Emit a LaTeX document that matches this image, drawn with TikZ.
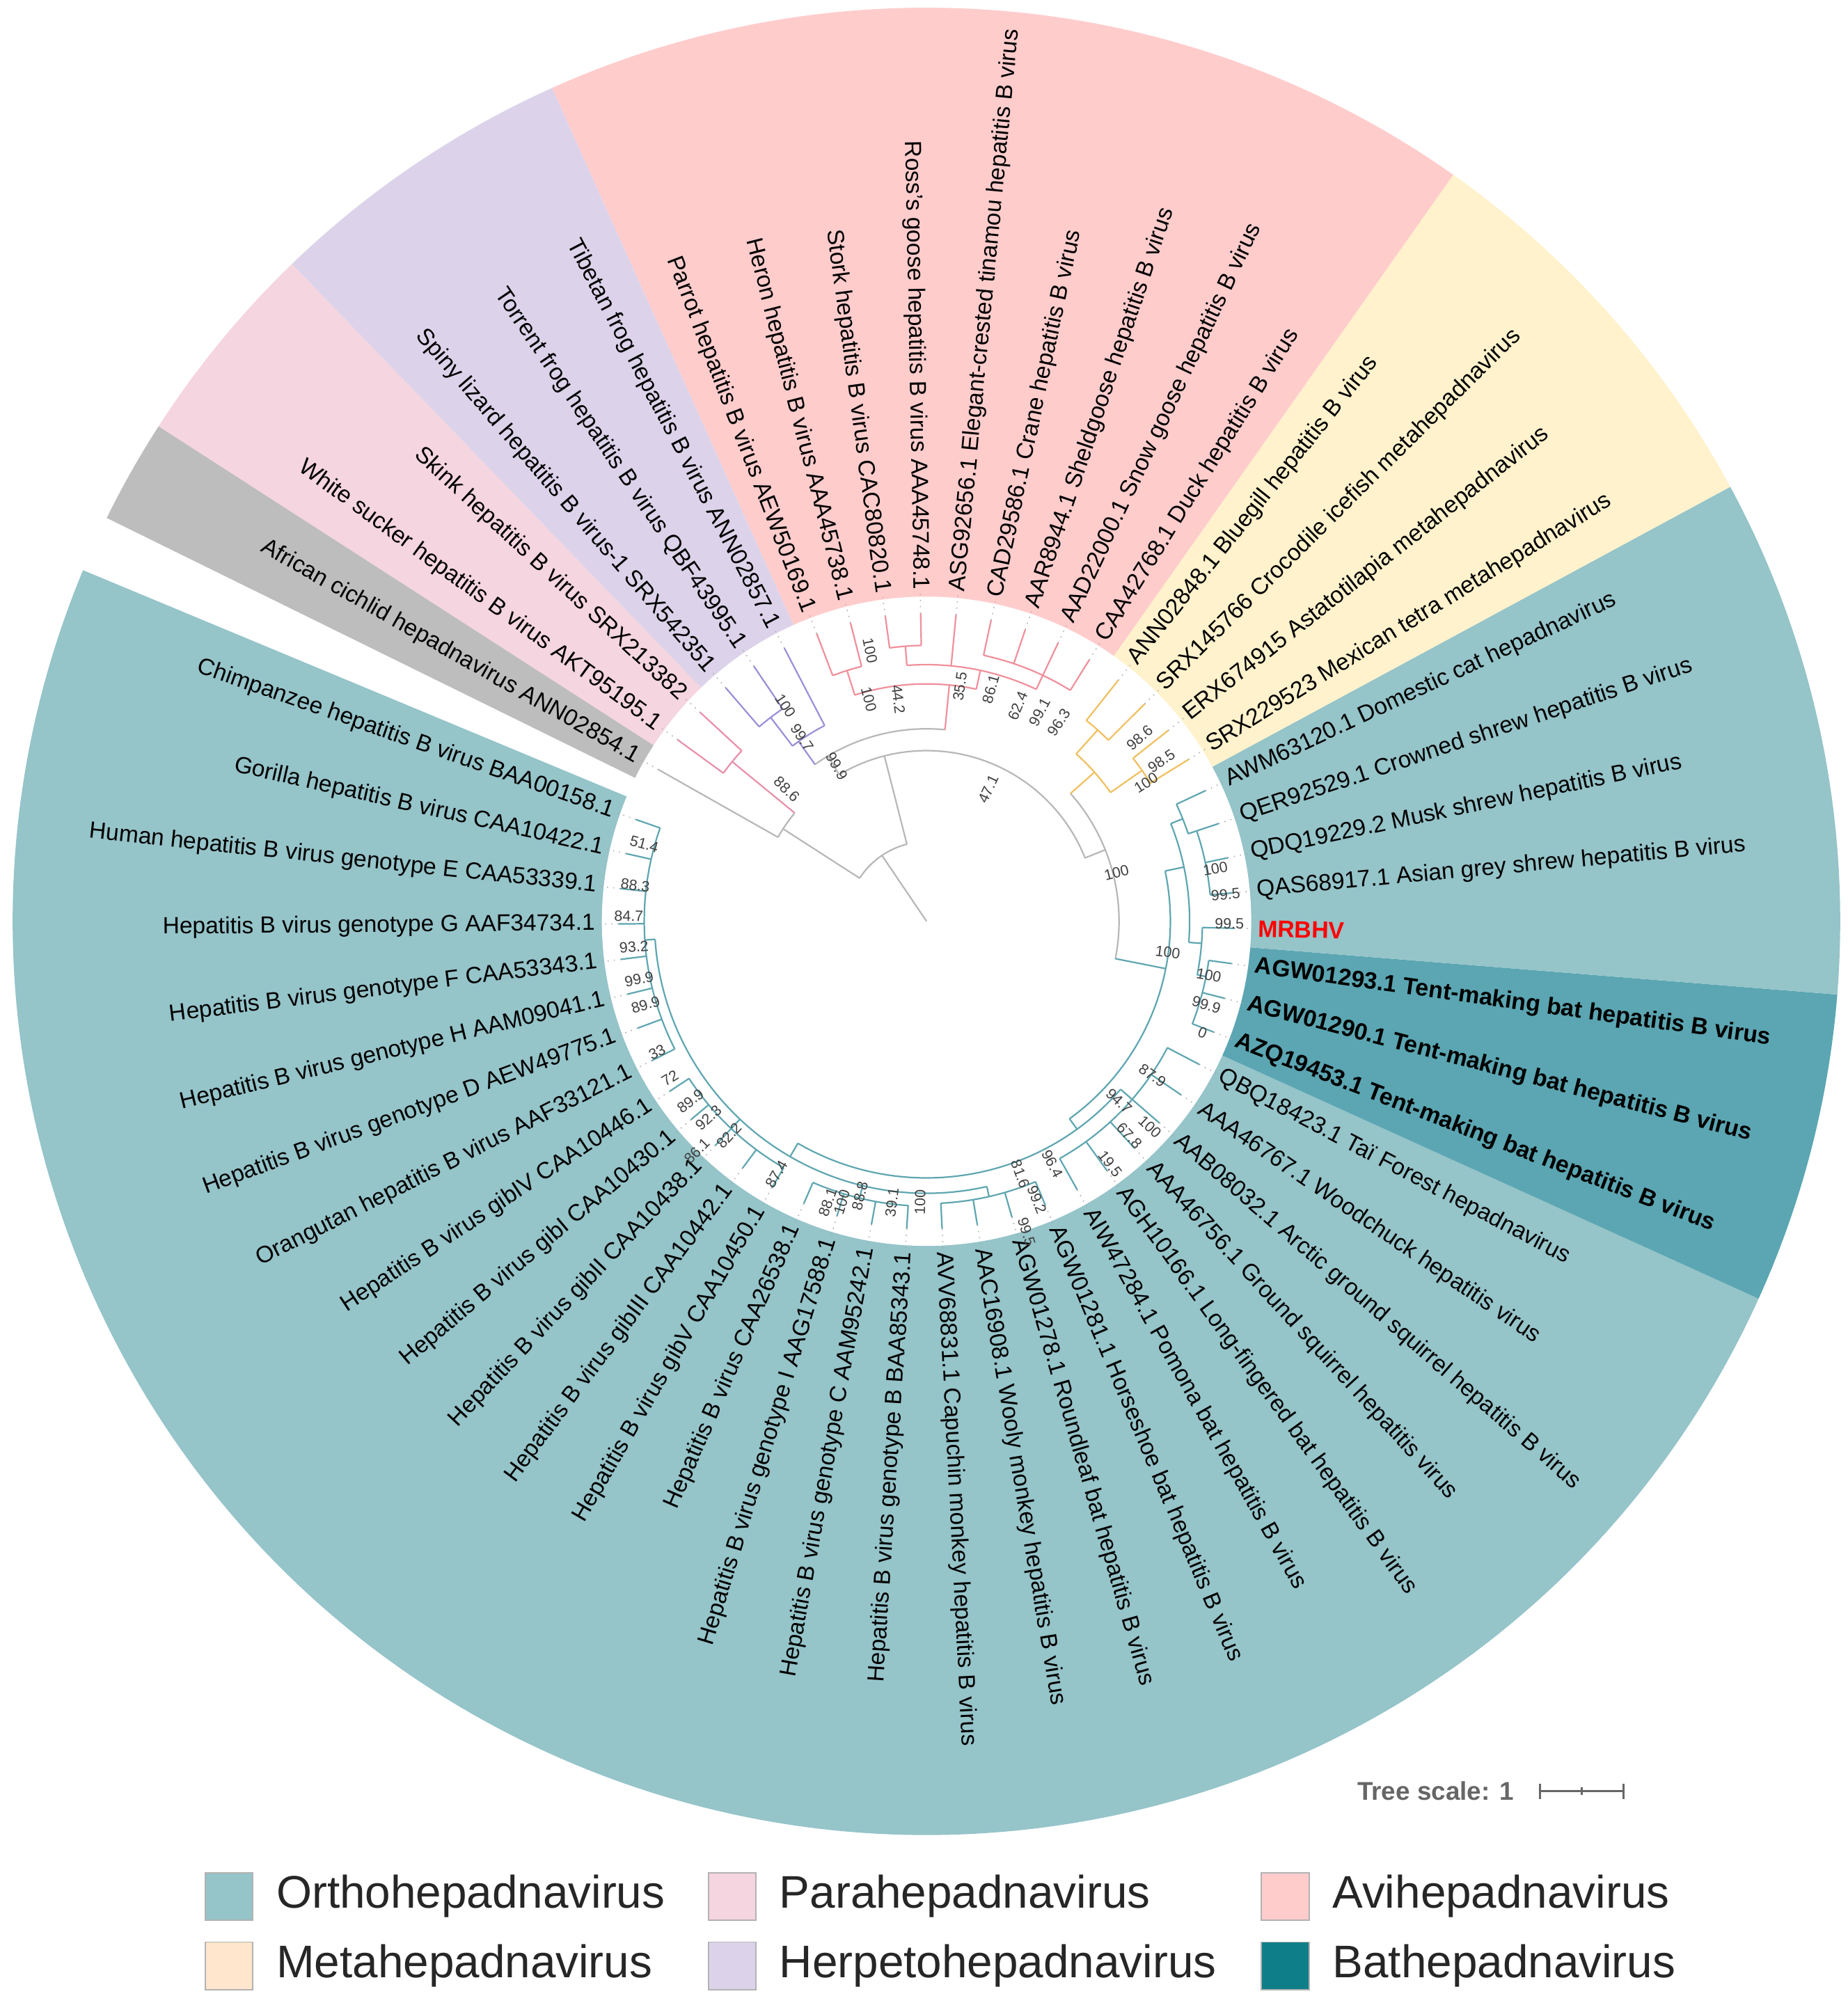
\documentclass[tikz,border=0pt]{standalone}
\usepackage{fontspec}
\setmainfont{Liberation Sans}
\definecolor{orthoC}{HTML}{95C4C9}
\definecolor{batC}{HTML}{5BA6B2}
\definecolor{aviC}{HTML}{FFCCCC}
\definecolor{metaC}{HTML}{FFF2CC}
\definecolor{metaL}{HTML}{FFE6CC}
\definecolor{herpC}{HTML}{DCD3EA}
\definecolor{paraC}{HTML}{F5D5DF}
\definecolor{grayC}{HTML}{BDBDBD}
\definecolor{bathL}{HTML}{0E7F88}
\definecolor{tGr}{HTML}{B8B8B8}
\definecolor{tTe}{HTML}{5FA6B0}
\definecolor{tRe}{HTML}{F0909C}
\definecolor{tPu}{HTML}{9A90D8}
\definecolor{tYe}{HTML}{F0C060}
\definecolor{tPi}{HTML}{E890A8}
\tikzset{
  gr/.style={draw=tGr,line width=0.6pt},
  te/.style={draw=tTe,line width=0.6pt},
  re/.style={draw=tRe,line width=0.6pt},
  pu/.style={draw=tPu,line width=0.6pt},
  ye/.style={draw=tYe,line width=0.6pt},
  pi/.style={draw=tPi,line width=0.6pt},
  dotline/.style={draw=gray!70,dotted,line width=0.4pt},
  lab/.style={font=\fontsize{9.1}{10}\selectfont,inner sep=0pt},
  blab/.style={font=\fontsize{9.2}{10}\selectfont\bfseries,inner sep=0pt},
  bsn/.style={font=\fontsize{5.8}{6}\selectfont,text=black!75,inner sep=0pt},
  legsw/.style={draw=gray!60,line width=0.5pt,minimum width=18.5pt,minimum height=18.5pt,inner sep=0pt},
  legtx/.style={font=\fontsize{17.8}{19}\selectfont,anchor=west,inner sep=0pt,text=black!85},
  declare function={ang(\k)=160.7+6.6*\k;}
}
\newcommand\myrad[4]{\draw[#1] ({ang(#2)}:#3) -- ({ang(#2)}:#4);}
\newcommand\myarc[4]{\draw[#1] ({ang(#2)}:#4) arc[start angle={ang(#2)}, end angle={ang(#3)}, radius={#4*0.5pt}];}
\newcommand\mycl[6]{\myrad{#1}{#4}{#2}{#3}\myarc{#1}{#5}{#6}{#3}}
\newcommand\mylf[3]{\myrad{#1}{#3}{#2}{240}\draw[dotline] ({ang(#3)}:240) -- ({ang(#3)}:255);}
\newcommand\mylfs[3]{\foreach \q in {#3}{\mylf{#1}{#2}{\q}}}
\newcommand\mywdg[3]{\fill[#1] (0,0) -- ({ang(#2)-3.3}:712) arc[start angle={ang(#2)-3.3}, end angle={ang(#3)+3.3}, radius={712*0.5pt}] -- cycle;}
\newcommand\mybs[3]{\pgfmathsetmacro\ba{atan2(1561-#2-843,#1-722)}\pgfmathsetmacro\bro{cos(\ba)<0?\ba+180:\ba}\node[bsn,rotate=\bro] (bs#1x#2) at ({#1},{1561-#2}) {#3};}
\begin{document}
\begin{tikzpicture}[x=0.5pt,y=0.5pt]
\useasboundingbox (0,0) rectangle (1440,1561);
\fill[white] (0,0) rectangle (1440,1561);
\begin{scope}[shift={(722,843)}]
\mywdg{orthoC}{0}{26}
\mywdg{batC}{27}{29}
\mywdg{orthoC}{30}{34}
\mywdg{metaC}{35}{38}
\mywdg{aviC}{39}{47}
\mywdg{herpC}{48}{50}
\mywdg{paraC}{51}{52}
\mywdg{grayC}{53}{53}
\fill[white] (0,0) circle[radius=253*0.5pt];
% tree
\draw[gr] (0,0) -- ({ang(49)}:62);
\myarc{gr}{46}{52.5}{62}
\mycl{gr}{62}{133}{52.5}{51.5}{53}
\mylf{gr}{133}{53}
\mycl{pi}{133}{196}{51.5}{51}{52}
\mylfs{pi}{196}{51,52}
\mycl{gr}{62}{133}{46}{33.5}{48.5}
\mycl{gr}{133}{150}{48.5}{43}{49.2}
\mycl{pu}{150}{172}{49.2}{48}{49.5}
\mylf{pu}{172}{48}
\mycl{pu}{172}{200}{49.5}{49}{50}
\mylfs{pu}{200}{49,50}
\mycl{re}{150}{185}{43}{42}{46.5}
\mycl{re}{185}{205}{46.5}{46}{47}
\mylfs{re}{205}{46,47}
\mycl{re}{185}{200}{42}{40}{44.5}
\mylf{re}{200}{43}
\mycl{re}{200}{215}{44.5}{44}{45}
\mylfs{re}{215}{44,45}
\mycl{re}{200}{212}{40}{39}{42}
\mylfs{re}{212}{39,40,41,42}
\mycl{gr}{133}{150}{33.5}{28.5}{36.5}
\mycl{ye}{150}{175}{36.5}{35.5}{37.5}
\mycl{ye}{175}{205}{35.5}{35}{36}
\mylfs{ye}{205}{35,36}
\mycl{ye}{175}{200}{37.5}{37}{38}
\mylfs{ye}{200}{37,38}
\mycl{te}{150}{190}{28.5}{22}{32}
\mycl{te}{190}{205}{32}{29.5}{33.5}
\mycl{te}{205}{215}{33.5}{33}{34}
\mylf{te}{215}{34}
\mycl{te}{215}{222}{33}{31}{33}
\mylfs{te}{222}{31,32,33}
\mycl{te}{205}{215}{29.5}{28.5}{30}
\mylf{te}{215}{30}
\mycl{te}{215}{222}{28.5}{27}{29}
\mylfs{te}{222}{27,28,29}
\mycl{te}{190}{200}{22}{12}{24}
\mycl{te}{200}{212}{24}{21}{26}
\mylfs{te}{212}{21,22,23,24,25,26}
\mycl{te}{200}{212}{12}{3.5}{18.5}
\mycl{te}{212}{220}{3.5}{0}{7}
\mylfs{te}{220}{0,1,2,3,4,5,6,7}
\mycl{te}{212}{222}{10}{8}{12}
\mylfs{te}{222}{8,9,10,11,12}
\mycl{te}{212}{222}{14.5}{13}{16}
\mylfs{te}{222}{13,14,15,16}
\mycl{te}{212}{220}{18.5}{17}{20}
\mylfs{te}{220}{17,18,19,20}
% labels
\foreach \k/\t in {0/Chimpanzee hepatitis B virus BAA00158.1,1/Gorilla hepatitis B virus CAA10422.1,2/Human hepatitis B virus genotype E CAA53339.1,3/Hepatitis B virus genotype G AAF34734.1,4/Hepatitis B virus genotype F CAA53343.1,5/Hepatitis B virus genotype H AAM09041.1,6/Hepatitis B virus genotype D AEW49775.1,7/Orangutan hepatitis B virus AAF33121.1,8/Hepatitis B virus gibIV CAA10446.1,9/Hepatitis B virus gibI CAA10430.1,10/Hepatitis B virus gibII CAA10438.1,11/Hepatitis B virus gibIII CAA10442.1,12/Hepatitis B virus gibV CAA10450.1,13/Hepatitis B virus CAA26538.1,14/Hepatitis B virus genotype I AAG17588.1,15/Hepatitis B virus genotype C AAM95242.1,16/Hepatitis B virus genotype B BAA85343.1,17/AVV68831.1 Capuchin monkey hepatitis B virus,18/AAC16908.1 Wooly monkey hepatitis B virus,19/AGW01278.1 Roundleaf bat hepatitis B virus,20/AGW01281.1 Horseshoe bat hepatitis B virus,21/AIW47284.1 Pomona bat hepatitis B virus,22/AGH10166.1 Long-fingered bat hepatitis B virus,23/AAA46756.1 Ground squirrel hepatitis virus,24/AAB08032.1 Arctic ground squirrel hepatitis B virus,25/AAA46767.1 Woodchuck hepatitis virus,26/QBQ18423.1 Taï Forest hepadnavirus,31/QAS68917.1 Asian grey shrew hepatitis B virus,32/QDQ19229.2 Musk shrew hepatitis B virus,33/QER92529.1 Crowned shrew hepatitis B virus,34/AWM63120.1 Domestic cat hepadnavirus,35/SRX229523 Mexican tetra metahepadnavirus,36/ERX674915 Astatotilapia metahepadnavirus,37/SRX145766 Crocodile icefish metahepadnavirus,38/ANN02848.1 Bluegill hepatitis B virus,39/CAA42768.1 Duck hepatitis B virus,40/AAD22000.1 Snow goose hepatitis B virus,41/AAR8944.1 Sheldgoose hepatitis B virus,42/CAD29586.1 Crane hepatitis B virus,43/ASG92656.1 Elegant-crested tinamou hepatitis B virus,44/Ross's goose hepatitis B virus AAA45748.1,45/Stork hepatitis B virus CAC80820.1,46/Heron hepatitis B virus AAA45738.1,47/Parrot hepatitis B virus AEW50169.1,48/Tibetan frog hepatitis B virus ANN02857.1,49/Torrent frog hepatitis B virus QBF43995.1,50/Spiny lizard hepatitis B virus-1 SRX542351,51/Skink hepatitis B virus SRX213382,52/White sucker hepatitis B virus AKT95195.1,53/African cichlid hepadnavirus ANN02854.1}{
  \pgfmathsetmacro\a{ang(\k)}
  \pgfmathparse{cos(\a)>0?1:0}
  \ifnum\pgfmathresult=1
    \node[lab,anchor=west,rotate=\a] (L\k) at (\a:258) {\t};
  \else
    \node[lab,anchor=east,rotate=\a-180] (L\k) at (\a:258) {\t};
  \fi
}
\foreach \k/\t in {27/AZQ19453.1 Tent-making bat hepatitis B virus,28/AGW01290.1 Tent-making bat hepatitis B virus,29/AGW01293.1 Tent-making bat hepatitis B virus}{
  \pgfmathsetmacro\a{ang(\k)}
  \node[blab,anchor=west,rotate=\a] (L\k) at (\a:258) {\t};
}
\node[blab,text=red,anchor=west,rotate={ang(30)}] (L30) at ({ang(30)}:258) {MRBHV};
\end{scope}
% bootstrap values
\mybs{502}{658}{51.4}\mybs{495}{690}{88.3}\mybs{490}{714}{84.7}\mybs{494}{738}{93.2}
\mybs{498}{763}{99.9}\mybs{503}{783}{89.9}\mybs{512}{820}{33}\mybs{522}{840}{72}
\mybs{538}{858}{89.9}\mybs{552}{871}{92.3}\mybs{543}{897}{86.1}\mybs{568}{885}{82.2}
\mybs{605}{915}{87.4}\mybs{645}{937}{88.1}\mybs{656}{937}{100}\mybs{670}{932}{88.8}
\mybs{695}{937}{39.1}\mybs{717}{937}{100}\mybs{795}{915}{81.6}\mybs{820}{907}{96.4}
\mybs{808}{935}{99.2}\mybs{800}{960}{99.5}\mybs{865}{907}{19.5}\mybs{880}{885}{67.8}
\mybs{896}{878}{100}\mybs{872}{858}{94.7}\mybs{898}{838}{87.9}\mybs{937}{805}{0}
\mybs{940}{783}{99.9}\mybs{942}{760}{100}\mybs{958}{720}{99.5}\mybs{955}{697}{99.5}
\mybs{947}{677}{100}\mybs{910}{742}{100}\mybs{870}{680}{100}\mybs{893}{610}{100}
\mybs{905}{593}{98.5}\mybs{888}{575}{98.6}\mybs{825}{563}{96.3}\mybs{810}{555}{99.1}
\mybs{793}{550}{62.4}\mybs{772}{537}{86.1}\mybs{748}{535}{35.5}\mybs{700}{545}{44.2}
\mybs{677}{545}{100}\mybs{678}{507}{100}\mybs{770}{615}{47.1}\mybs{652}{597}{99.9}
\mybs{613}{615}{88.6}\mybs{625}{575}{99.7}\mybs{612}{550}{100}
% tree scale
\node[font=\fontsize{10}{12}\selectfont\bfseries,text=black!60,anchor=east,inner sep=0pt] (ts) at (1180,165) {Tree scale: 1};
\coordinate (s1) at (1200,165); \coordinate (s2) at (1265,165); \coordinate (s3) at (1232.5,165);
\draw[black!60,line width=0.7pt] (s1) -- (s2);
\draw[black!60,line width=0.7pt] ([yshift=-3pt]s1) -- ([yshift=3pt]s1) ([yshift=-3pt]s2) -- ([yshift=3pt]s2) ([yshift=-1.5pt]s3) -- ([yshift=1.5pt]s3);
% legend
\node[legsw,fill=orthoC] (g1) at (178.5,83) {}; \node[legtx] (t1) at (215,83) {Orthohepadnavirus};
\node[legsw,fill=paraC] (g2) at (570.5,83) {}; \node[legtx] (t2) at (607,83) {Parahepadnavirus};
\node[legsw,fill=aviC] (g3) at (1001.5,83) {}; \node[legtx] (t3) at (1038,83) {Avihepadnavirus};
\node[legsw,fill=metaL] (g4) at (178.5,29) {}; \node[legtx] (t4) at (215,29) {Metahepadnavirus};
\node[legsw,fill=herpC] (g5) at (570.5,29) {}; \node[legtx] (t5) at (607,29) {Herpetohepadnavirus};
\node[legsw,fill=bathL] (g6) at (1001.5,29) {}; \node[legtx] (t6) at (1038,29) {Bathepadnavirus};
\end{tikzpicture}
\end{document}
